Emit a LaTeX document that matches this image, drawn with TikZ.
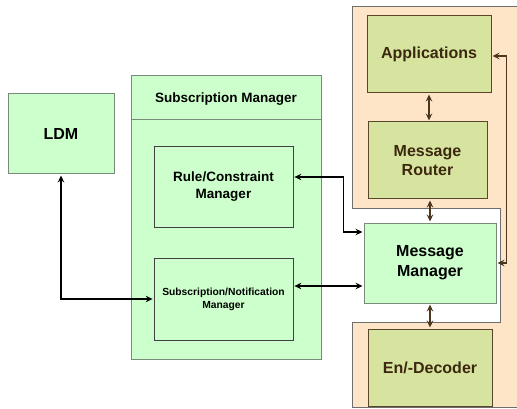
\documentclass[tikz,border=0pt]{standalone}
\usepackage{fontspec}
\setmainfont{Liberation Sans}
\usetikzlibrary{arrows.meta}
\definecolor{lgreen}{RGB}{204,255,204}
\definecolor{gborder}{RGB}{120,138,120}
\definecolor{olive}{RGB}{215,228,160}
\definecolor{oborder}{RGB}{90,70,40}
\definecolor{otext}{RGB}{60,40,15}
\definecolor{orangebg}{RGB}{255,229,200}
\definecolor{panelborder}{RGB}{110,110,110}
\definecolor{brown}{RGB}{75,55,30}
\begin{document}
\begin{tikzpicture}[x=1pt,y=-1pt,
  gbox/.style={draw=gborder, fill=lgreen, line width=1pt, inner sep=0pt, align=center},
  ibox/.style={draw=black!75, fill=lgreen, line width=0.8pt, inner sep=0pt, align=center},
  obox/.style={draw=oborder, fill=olive, line width=1pt, inner sep=0pt, align=center, text=otext},
  big/.style={font=\fontsize{16}{20}\selectfont\bfseries},
  mid/.style={font=\fontsize{13.5}{17}\selectfont\bfseries},
  small/.style={font=\fontsize{10.3}{13}\selectfont\bfseries},
  arr/.style={line width=1.6pt, black, {Stealth[length=7pt,width=6.5pt,inset=2.5pt]}-{Stealth[length=7pt,width=6.5pt,inset=2.5pt]}, shorten <=1pt, shorten >=1pt},
  barr/.style={arr, draw=brown, line width=1.4pt}
]
\useasboundingbox (0,0) rectangle (517,409);
\fill[white] (0,0) rectangle (517,409);
% orange panel
\fill[orangebg] (352,7) -- (520,7) -- (520,407) -- (352,407) -- (352,322) -- (500,322) -- (500,208) -- (352,208) -- cycle;
\draw[panelborder, line width=1pt] (520,7) -- (352,7) -- (352,208) -- (500,208) -- (500,322) -- (352,322) -- (352,407) -- (520,407);

% LDM
\node[gbox, big, minimum width=106pt, minimum height=80pt] (ldm) at (61,134) {LDM};

% Subscription Manager
\node[gbox, minimum width=190pt, minimum height=283pt] (sm) at (226,217.5) {};
\draw[gborder, line width=1pt] (sm.west |- 0,120) -- (sm.east |- 0,120);
\node[mid] (smt) at (226,99) {Subscription Manager};
\node[ibox, mid, minimum width=139pt, minimum height=81pt, font=\fontsize{13.5}{17}\selectfont\bfseries] (rule) at (223.5,186.5) {Rule/Constraint\\Manager};
\node[ibox, small, minimum width=139pt, minimum height=82pt, font=\fontsize{10.3}{13}\selectfont\bfseries] (subnot) at (223.5,299) {Subscription/Notification\\Manager};

% right side
\node[obox, big, minimum width=124pt, minimum height=77pt, font=\fontsize{16}{20}\selectfont\bfseries] (app) at (429,54.5) {Applications};
\node[obox, big, minimum width=119pt, minimum height=77pt, font=\fontsize{16}{18.5}\selectfont\bfseries] (router) at (427.5,160.5) {Message\\Router};
\node[gbox, big, minimum width=132pt, minimum height=80pt, font=\fontsize{16}{20}\selectfont\bfseries] (mm) at (430,263) {Message\\Manager};
\node[obox, big, minimum width=124pt, minimum height=77pt, font=\fontsize{16}{20}\selectfont\bfseries] (dec) at (430,367.5) {En/-Decoder};

% connectors
\draw[barr] (app.south) -- (app.south |- router.north);
\draw[barr] (router.south -| mm.north) -- (mm.north);
\draw[barr] (mm.south) -- (dec.north);
\draw[barr] ([yshift=-1.5pt]app.east) -- ++(15,0) |- (mm.east);
\draw[arr] ([yshift=9.5pt]rule.east) -- ++(50,0) |- ([yshift=31pt]mm.west);
\draw[arr] ([yshift=13pt]subnot.east) -- ([yshift=13pt]subnot.east -| mm.west);
\draw[arr] (ldm.south) |- (subnot.west);
\end{tikzpicture}
\end{document}
